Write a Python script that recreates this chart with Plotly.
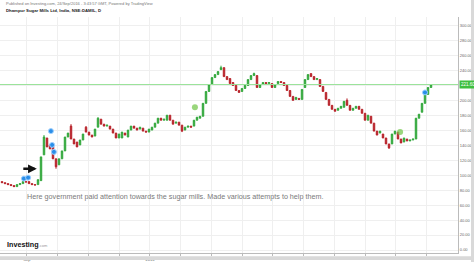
import plotly.graph_objects as go

# Daily-ish candles (two trading days per candle), Aug 2015 -> Sep 2016
opens = [91.6, 90.2, 88.9, 87.6, 86.3, 84.9, 87.6, 88.9, 91.6, 91.6,
         88.9, 87.6, 87.6, 92.9, 127.4, 150.0, 140.7, 138.0, 122.1, 114.1,
         122.1, 132.7, 151.3, 165.9, 148.6, 144.6, 140.7, 147.3, 164.5, 157.9,
         153.9, 152.6, 164.5, 175.2, 168.5, 165.9, 165.9, 161.9, 156.6, 150.0,
         150.0, 156.6, 151.3, 160.6, 165.9, 163.2, 161.9, 163.2, 159.2, 157.9,
         160.6, 164.5, 169.9, 176.5, 173.8, 173.8, 180.5, 173.8, 169.9, 171.2,
         167.2, 160.6, 164.5, 165.9, 165.9, 173.8, 176.5, 179.1, 196.4, 212.3,
         221.6, 230.9, 234.9, 241.5, 244.2, 232.2, 229.6, 224.3, 220.3, 213.6,
         212.3, 216.3, 220.3, 228.2, 233.6, 233.6, 217.6, 221.6, 224.3, 222.9,
         222.9, 217.6, 222.9, 225.6, 224.3, 220.3, 213.6, 205.7, 201.7, 203.0,
         201.7, 217.6, 228.2, 236.2, 232.2, 228.2, 228.2, 219.0, 211.0, 201.7,
         193.7, 188.4, 187.1, 189.8, 191.1, 200.4, 193.7, 187.1, 189.8, 192.4,
         188.4, 183.1, 173.8, 179.1, 169.9, 159.2, 156.6, 155.3, 150.0, 142.0,
         142.0, 155.3, 157.9, 148.6, 144.6, 148.6, 146.0, 147.3, 148.6, 176.5,
         184.5, 196.4, 208.3, 217.6]
closes = [90.2, 88.9, 87.6, 86.3, 84.9, 87.6, 88.9, 91.6, 91.0, 88.9,
          87.6, 87.0, 94.2, 124.7, 151.3, 138.0, 135.4, 122.1, 111.5, 122.1,
          132.7, 151.3, 156.6, 148.6, 142.0, 138.0, 147.3, 155.3, 157.9, 153.9,
          151.3, 161.9, 176.5, 168.5, 165.9, 167.2, 161.9, 156.6, 150.0, 155.3,
          157.9, 153.9, 160.6, 165.9, 163.2, 160.6, 164.5, 159.2, 157.9, 161.9,
          164.5, 169.9, 176.5, 173.8, 175.2, 180.5, 173.8, 168.5, 171.2, 167.2,
          159.2, 164.5, 165.9, 164.5, 173.8, 177.8, 179.1, 196.4, 212.3, 221.6,
          230.9, 234.9, 238.9, 244.2, 232.2, 228.2, 222.9, 220.3, 213.6, 211.0,
          216.3, 220.3, 228.2, 233.6, 236.2, 217.6, 221.6, 224.3, 222.9, 224.3,
          217.6, 221.6, 225.6, 224.3, 220.3, 213.6, 205.7, 200.4, 204.4, 201.7,
          215.0, 228.2, 234.9, 232.2, 228.2, 229.6, 219.0, 212.3, 201.7, 193.7,
          188.4, 185.8, 189.8, 192.4, 199.1, 193.7, 187.1, 189.8, 192.4, 188.4,
          183.1, 173.8, 180.5, 169.9, 159.2, 153.9, 159.2, 150.0, 142.0, 136.7,
          155.3, 159.2, 148.6, 143.3, 150.0, 146.0, 147.3, 148.6, 176.5, 181.8,
          196.4, 208.3, 217.6, 221.6]
wick_highs = {14: 153.9, 23: 168.5, 28: 165.9, 32: 177.8, 73: 246.8, 84: 237.5, 115: 203.0}
wick_lows = {18: 108.8, 60: 157.9, 129: 135.4}

price_ticks = [0, 20, 40, 60, 80, 100, 120, 140, 160, 180, 200, 220, 240, 260, 280, 300]
price_labels = ["0.00", "20.00", "40.00", "60.00", "80.00", "100.00", "120.00", "140.00",
                "160.00", "180.00", "200.00", "", "240.00", "260.00", "280.00", "300.00"]
month_ticks = [8.3, 18.6, 28.8, 39.0, 49.3, 59.5, 69.8, 80.0, 90.2, 100.5, 110.7, 121.0, 131.2, 141.4]
month_labels = ["Sep", "", "", "", "2016", "", "", "", "", "", "", "", "", ""]

event_x = [7.3, 8.7, 16.3, 16.7, 17.3, 141.0]
event_y = [95.6, 96.9, 159.2, 140.7, 131.4, 211.0]
signal_x = [64.3, 132.7]
signal_y = [191.1, 157.9]

title_text = "Dhampur Sugar Mills Ltd, India, NSE:DAMIL, D"
published_text = "Published on Investing.com, 24/Sep/2016 - 3:43:57 GMT, Powered by TradingView"
note_text = "Here government paid attention towards the sugar mills. Made various attempts to help them."

highs = [wick_highs.get(i, max(o, c)) for i, (o, c) in enumerate(zip(opens, closes))]
lows = [wick_lows.get(i, min(o, c)) for i, (o, c) in enumerate(zip(opens, closes))]
xs = list(range(len(opens)))
last = closes[-1]

GREEN = "#33a83d"
RED = "#b8232a"
FONT = "Arial, Liberation Sans, sans-serif"

fig = go.Figure()
fig.add_trace(go.Candlestick(
    x=xs, open=opens, high=highs, low=lows, close=closes,
    increasing=dict(line=dict(color=GREEN, width=1), fillcolor=GREEN),
    decreasing=dict(line=dict(color=RED, width=1), fillcolor=RED),
    whiskerwidth=0, showlegend=False, hoverinfo="skip"))
fig.add_trace(go.Scatter(
    x=signal_x, y=signal_y, mode="markers", showlegend=False, hoverinfo="skip",
    marker=dict(size=6, color="rgba(120,200,80,0.75)", line=dict(width=0))))
fig.add_trace(go.Scatter(
    x=event_x, y=event_y, mode="markers", showlegend=False, hoverinfo="skip",
    marker=dict(size=5, color="#2a8ee8", line=dict(width=1, color="#9fd0ff"))))

fig.add_shape(type="line", xref="paper", x0=0, x1=1, yref="y", y0=last, y1=last,
              line=dict(color="#9be39b", width=1))
# right / bottom gray strips
fig.add_shape(type="rect", xref="paper", yref="paper", x0=1.0284, x1=1.04, y0=-0.04, y1=1.08,
              fillcolor="#d9d9d9", line=dict(width=0), layer="above")
fig.add_shape(type="rect", xref="paper", yref="paper", x0=-0.01, x1=1.04, y0=-0.03, y1=-0.014,
              fillcolor="#d9d9d9", line=dict(width=0), layer="above")

fig.add_annotation(xref="paper", x=1.003, y=last, yref="y", text=f"{last:.2f}",
                   showarrow=False, xanchor="left", yanchor="middle",
                   bgcolor="#3fbf3f", font=dict(size=4.5, color="white", family=FONT),
                   borderpad=1)
fig.add_annotation(xref="paper", yref="paper", x=0.008, y=1.056, text=published_text,
                   showarrow=False, xanchor="left", yanchor="middle",
                   font=dict(size=4, color="#777", family=FONT))
fig.add_annotation(xref="paper", yref="paper", x=0.008, y=1.027, text="<b>" + title_text + "</b>",
                   showarrow=False, xanchor="left", yanchor="middle",
                   font=dict(size=4.3, color="#222", family=FONT))
fig.add_annotation(x=7.7, y=72, text=note_text, showarrow=False, xanchor="left", yanchor="middle",
                   font=dict(size=7.2, color="#7a7a7a", family=FONT))
fig.add_annotation(x=11.6, y=108.8, ax=-15, ay=0, text="", showarrow=True,
                   arrowhead=2, arrowsize=0.7, arrowwidth=2.5, arrowcolor="#111")
fig.add_annotation(xref="paper", yref="paper", x=0.01, y=0.035, showarrow=False,
                   xanchor="left", yanchor="middle",
                   text="<b>Investing</b><span style='font-size:4px;color:#999'>.com</span>",
                   font=dict(size=7.2, color="#111", family=FONT))

fig.update_layout(
    width=474, height=262,
    margin=dict(l=0, r=16, t=17, b=7),
    paper_bgcolor="white", plot_bgcolor="white",
    font=dict(family=FONT),
    xaxis=dict(range=[-0.67, 152.0], rangeslider=dict(visible=False),
               tickvals=month_ticks, ticktext=month_labels,
               showgrid=True, gridcolor="#efefef", gridwidth=1,
               showline=True, linecolor="#bbbbbb", linewidth=1,
               ticks="outside", ticklen=2, tickcolor="#bbbbbb",
               tickfont=dict(size=4, color="#666"), zeroline=False),
    yaxis=dict(range=[-4, 312], side="right", tickvals=price_ticks, ticktext=price_labels,
               showgrid=True, gridcolor="#efefef", gridwidth=1,
               showline=True, linecolor="#bbbbbb", linewidth=1,
               ticks="", tickfont=dict(size=4, color="#666"), zeroline=False),
)

fig.write_html("out.html")
